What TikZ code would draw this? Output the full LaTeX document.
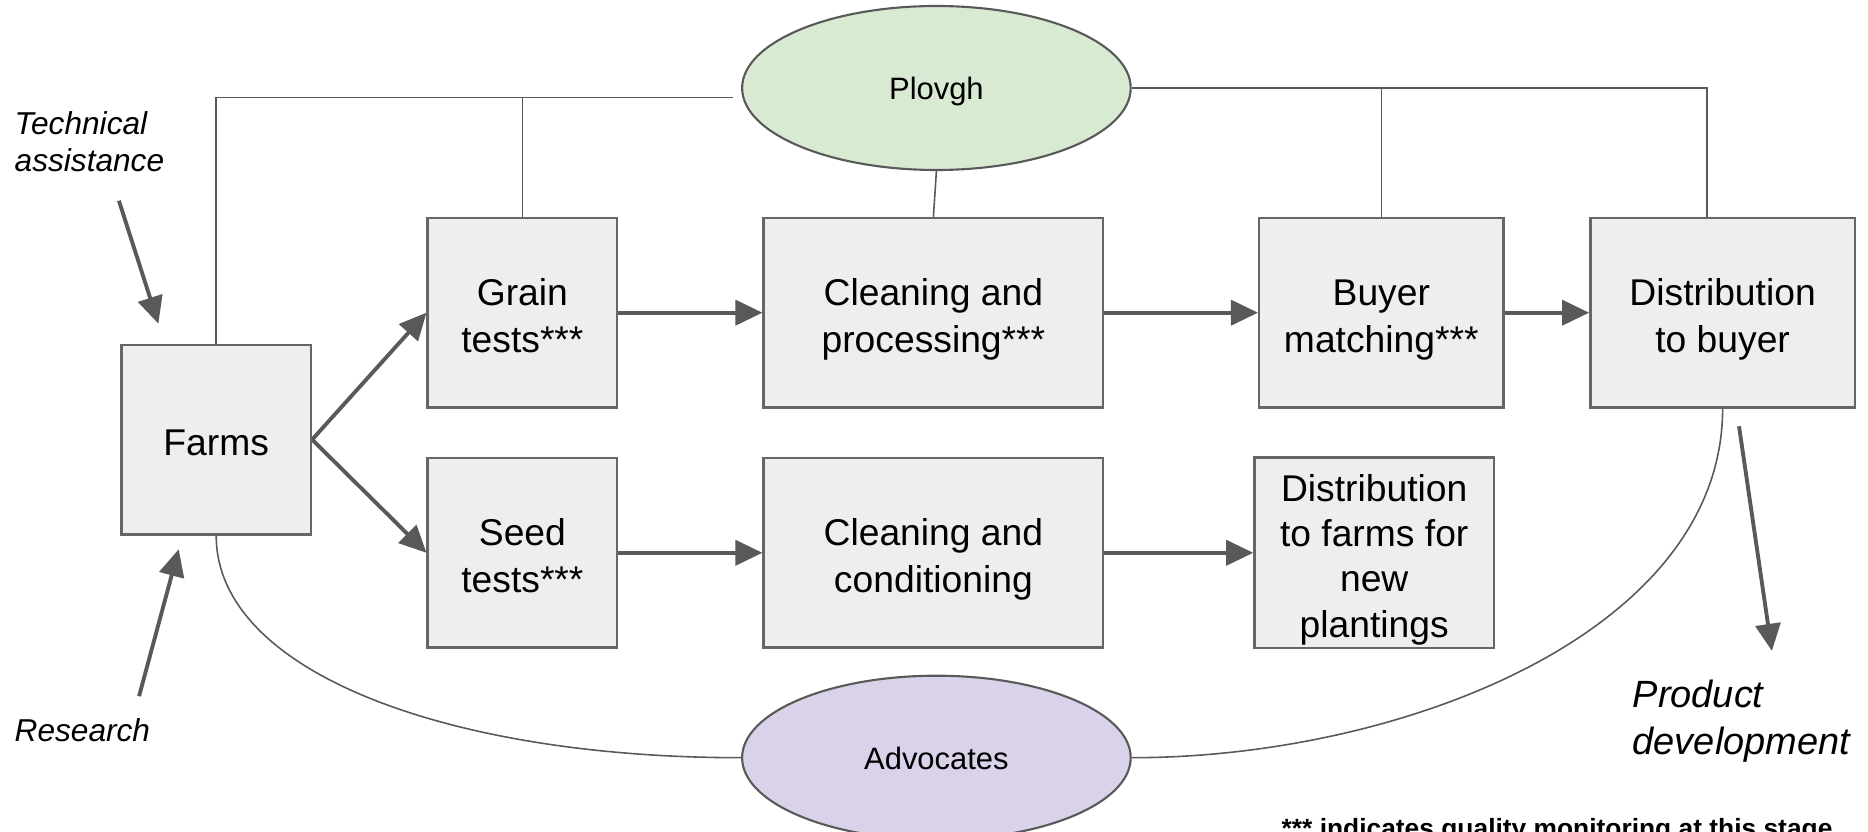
\documentclass[tikz,border=0pt]{standalone}
\usepackage{fontspec}
\setmainfont{Liberation Sans}
\usetikzlibrary{positioning,shapes.geometric,arrows.meta}

\definecolor{boxfill}{HTML}{EEEEEE}
\definecolor{boxline}{HTML}{666666}
\definecolor{flowgray}{HTML}{595959}
\definecolor{plovghgreen}{HTML}{D9EAD3}
\definecolor{advpurple}{HTML}{D9D2E9}

\newcommand{\boxfont}{\fontsize{10.6}{13.5}\selectfont}
\newcommand{\sidefont}{\fontsize{9}{10.5}\selectfont\itshape}

\begin{document}
\begin{tikzpicture}[
  block/.style={rectangle, draw=boxline, fill=boxfill, line width=0.7pt, minimum width=1.894cm, minimum height=1.894cm, align=center, font=\boxfont, inner sep=0pt, text height=25.8pt, text depth=3pt},
  hub/.style={ellipse, draw=flowgray, line width=0.6pt, minimum width=3.886cm, minimum height=1.64cm, inner sep=0pt, text height=6.5pt, text depth=0pt, font=\fontsize{8.8}{10}\selectfont},
  sidetext/.style={align=left, inner sep=0pt, font=\sidefont},
  flow/.style={-{Triangle[length=0.27cm,width=0.25cm]}, line width=1.1pt, draw=flowgray},
  link/.style={draw=flowgray, line width=0.45pt},
  node distance=2cm
]
\useasboundingbox (0,0) rectangle (18.68,8.31);

\node[block, text height=12.3pt] (farms) at (2.162,3.914) {Farms};
\node[block, right of=farms, node distance=3.062cm, yshift=1.269cm] (grain) {Grain\\tests***};
\node[block, right of=farms, node distance=3.062cm, yshift=-1.132cm] (seed) {Seed\\tests***};
\node[block, right of=grain, node distance=4.11cm, minimum width=3.395cm] (cproc) {Cleaning and\\processing***};
\node[block, right of=seed, node distance=4.11cm, minimum width=3.395cm] (ccond) {Cleaning and\\conditioning};
\node[block, right of=cproc, node distance=4.479cm, minimum width=2.442cm] (buyer) {Buyer\\matching***};
\node[block, right of=buyer, node distance=3.413cm, minimum width=2.645cm] (dbuyer) {Distribution\\to buyer};
\node[block, right of=ccond, node distance=4.408cm, minimum width=2.395cm, minimum height=1.906cm, text height=51pt, font=\fontsize{10.6}{12.9}\selectfont] (dfarms) {Distribution\\to farms for\\new\\plantings};

\node[hub, fill=plovghgreen, above of=cproc, node distance=2.247cm, xshift=0.03cm] (plovgh) {Plovgh};
\node[hub, fill=advpurple, below of=ccond, node distance=2.049cm, xshift=0.03cm] (adv) {Advocates};

\node[sidetext, anchor=west] (tech) at (0.14,6.89) {Technical\\assistance};
\node[sidetext, anchor=west] (research) at (0.14,1.01) {Research};
\node[sidetext, anchor=west, font=\fontsize{10.8}{13.5}\selectfont\itshape] (product) at (16.32,1.10) {Product\\development};
\node[anchor=base west, inner sep=0pt, font=\fontsize{7.5}{9}\selectfont\bfseries] (footnote) at (12.81,-0.06) {*** indicates quality monitoring at this stage};

% main flow
\draw[flow] (farms.east) -- (grain.west);
\draw[flow] (farms.east) -- (seed.west);
\draw[flow] (grain) -- (cproc);
\draw[flow] (cproc) -- (buyer);
\draw[flow] (buyer) -- (dbuyer);
\draw[flow] (seed) -- (ccond);
\draw[flow] (ccond) -- (dfarms);

% outside inputs and outputs
\draw[flow] ([xshift=0.295cm,yshift=-0.28cm]tech.south) -- ([xshift=-0.578cm,yshift=0.2cm]farms.north);
\draw[flow] ([xshift=0.567cm,yshift=0.215cm]research.north) -- ([xshift=-0.375cm,yshift=-0.137cm]farms.south);
\draw[flow] ([xshift=0.164cm,yshift=-0.176cm]dbuyer.south) -- ([xshift=0.305cm,yshift=0.28cm]product.north);

% Plovgh and Advocates links
\path (plovgh.west) ++(-0.08,-0.097) coordinate (pleft);
\draw[link] (pleft) -| (farms.north);
\draw[link] (pleft) -| (grain.north);
\draw[link] (plovgh.south) -- (cproc.north);
\draw[link] (plovgh.east) -| ([xshift=-0.156cm]dbuyer.north);
\draw[link] (plovgh.east) -| (buyer.north);
\draw[link] (farms.south) .. controls +(0,-1.37) and +(-2.92,0) .. (adv.west);
\draw[link] (dbuyer.south) .. controls +(0,-2.24) and +(2.7,0) .. (adv.east);
\end{tikzpicture}
\end{document}
